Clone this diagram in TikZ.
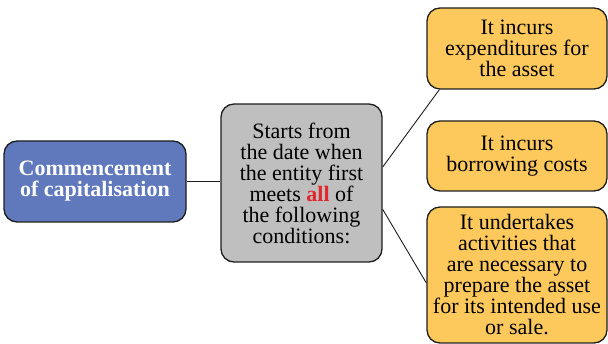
\documentclass[tikz,border=0pt]{standalone}
\usepackage{fontspec}
\setmainfont{Liberation Serif}
\usepackage{xcolor}
\usetikzlibrary{positioning,calc}
\definecolor{ink}{HTML}{1E1E1E}
\definecolor{capblue}{HTML}{6079BD}
\definecolor{condgray}{HTML}{BFBFC0}
\definecolor{condgold}{HTML}{FEC95C}
\definecolor{allred}{HTML}{E3262C}
\tikzset{
  basecard/.style={draw=ink,line width=1.3pt,rounded corners=13pt,
                   align=center,inner sep=0pt,
                   font=\fontsize{22pt}{21pt}\selectfont},
  bluecard/.style={basecard,fill=capblue,text=white,
                   font=\fontsize{22pt}{21pt}\selectfont\bfseries},
  graycard/.style={basecard,fill=condgray},
  goldcard/.style={basecard,fill=condgold},
  link/.style={draw=ink,line width=0.9pt}
}
\begin{document}
\begin{tikzpicture}[x=1pt,y=-1pt]
    \path[use as bounding box] (0,0) rectangle (608,344);

    \node[bluecard,minimum width=182pt,minimum height=81pt] (commence) at (95,181.5)
      {Commencement\\of capitalisation};
    \node[graycard,minimum width=161pt,minimum height=158pt] (starts) at (301.5,183)
      {Starts from\\the date when\\the entity first\\meets \textcolor{allred}{\bfseries all} of\\the following\\conditions:};

    \node[goldcard,minimum width=180pt,minimum height=81pt] (expend) at (517,48.5)
      {It incurs\\expenditures for\\the asset};
    \node[goldcard,minimum width=180pt,minimum height=70pt] (borrow) at (517,156)
      {It incurs\\borrowing costs};
    \node[goldcard,minimum width=180pt,minimum height=136pt] (activity) at (517,275)
      {It undertakes\\activities that\\are necessary to\\prepare the asset\\for its intended use\\or sale.};

    \draw[link] (commence.east) -- (commence.east -| starts.west);
    \draw[link] ($(starts.north east)!0.40!(starts.south east)$)
      -- ([xshift=13pt]expend.south west);
    \draw[link] ($(starts.north east)!0.50!(starts.south east)$)
      -- ($(starts.north east)!0.50!(starts.south east)$ -| borrow.west);
    \draw[link] ($(starts.north east)!0.665!(starts.south east)$)
      -- ([yshift=-8pt]activity.west);
  \end{tikzpicture}
\end{document}
